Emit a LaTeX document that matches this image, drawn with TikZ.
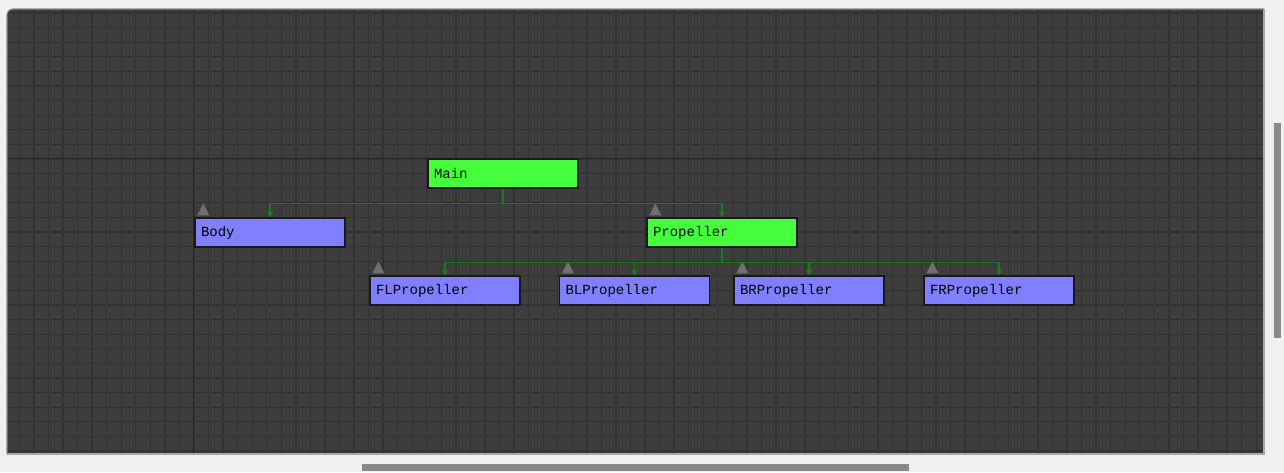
\documentclass[tikz,border=0pt]{standalone}
\usepackage{fontspec}
\setmonofont{Liberation Mono}
\usetikzlibrary{arrows.meta}
\definecolor{outerbg}{HTML}{F0F0F0}
\definecolor{panelbg}{HTML}{3D3D3D}
\definecolor{gridc}{HTML}{323232}
\definecolor{majorc}{HTML}{262626}
\definecolor{nodegreen}{HTML}{46FF3C}
\definecolor{nodeblue}{HTML}{8080FF}
\definecolor{linkc}{HTML}{1E7A1E}
\definecolor{trig}{HTML}{707070}
\definecolor{scrollc}{HTML}{8A8A8A}
\definecolor{edgec}{HTML}{A8A8A8}
\tikzset{
  x={0.75pt}, y={-0.75pt},
  gridline/.style={draw=gridc, line width=1pt},
  majorline/.style={draw=majorc, line width=1.4pt},
  boxbase/.style={draw=black!90, line width=0.9pt, minimum width=112.5pt, minimum height=21.75pt,
    text width=103.5pt, align=left, inner xsep=4.5pt, inner ysep=0pt, font=\ttfamily\fontsize{10.5}{12}\selectfont, text=black},
  greenbox/.style={boxbase, fill=nodegreen},
  bluebox/.style={boxbase, fill=nodeblue},
  link/.style={draw=linkc, line width=1pt},
  arrowlink/.style={link, -{Stealth[length=4.5pt,width=5pt]}},
  marker/.style={fill=trig, draw=none},
}
\begin{document}
\begin{tikzpicture}
\useasboundingbox (0,0) rectangle (1284,472);
\fill[outerbg] (0,0) rectangle (1284,472);
% panel
\fill[panelbg] (7,454) -- (7,15) arc[start angle=180, end angle=270, radius=6] -- (1264,9) -- (1264,454) -- cycle;
\begin{scope}
\clip (7,454) -- (7,15) arc[start angle=180, end angle=270, radius=6] -- (1264,9) -- (1264,454) -- cycle;
\foreach \i in {-13,...,74} \draw[gridline] (194+\i*14.55,9) -- (194+\i*14.55,454);
\foreach \j in {-11,...,20} \draw[gridline] (7,159+\j*14.6) -- (1264,159+\j*14.6);
\draw[majorline] (7,158.5) -- (1264,158.5);
\draw[majorline] (193.5,158.5) -- (193.5,454);
\end{scope}
\draw[edgec, line width=0.8pt] (1264,9) -- (1264,454) -- (7,454);
\draw[edgec!70!panelbg, line width=0.8pt] (7,454) -- (7,15) arc[start angle=180, end angle=270, radius=6] -- (1264,9);
% scrollbars
\fill[scrollc] (1274,123) rectangle (1281,338);
\fill[scrollc] (362,464) rectangle (909,471);
% nodes
\node[greenbox] (main) at (503,173.5) {Main};
\node[bluebox] (body) at (270,232.5) {Body};
\node[greenbox] (prop) at (722,232.5) {Propeller};
\node[bluebox] (fl) at (445,290.5) {FLPropeller};
\node[bluebox] (bl) at (634.5,290.5) {BLPropeller};
\node[bluebox] (br) at (809,290.5) {BRPropeller};
\node[bluebox] (fr) at (999,290.5) {FRPropeller};
% markers
\foreach \n in {body,prop,fl,bl,br,fr}
  \fill[marker] ([shift={(3,-2)}]\n.north west) -- ([shift={(9,-14)}]\n.north west) -- ([shift={(15,-2)}]\n.north west) -- cycle;
% connectors
\coordinate (mbar) at ([yshift=-11.25pt]main.south);
\coordinate (pbar) at ([yshift=-11.25pt]prop.south);
\draw[link] (main.south) -- (mbar);
\draw[arrowlink] (mbar) -| (body.north);
\draw[arrowlink] (mbar) -| (prop.north);
\draw[link] (prop.south) -- (pbar);
\foreach \c in {fl,bl,br,fr} \draw[arrowlink] (pbar) -| (\c.north);
\end{tikzpicture}
\end{document}
